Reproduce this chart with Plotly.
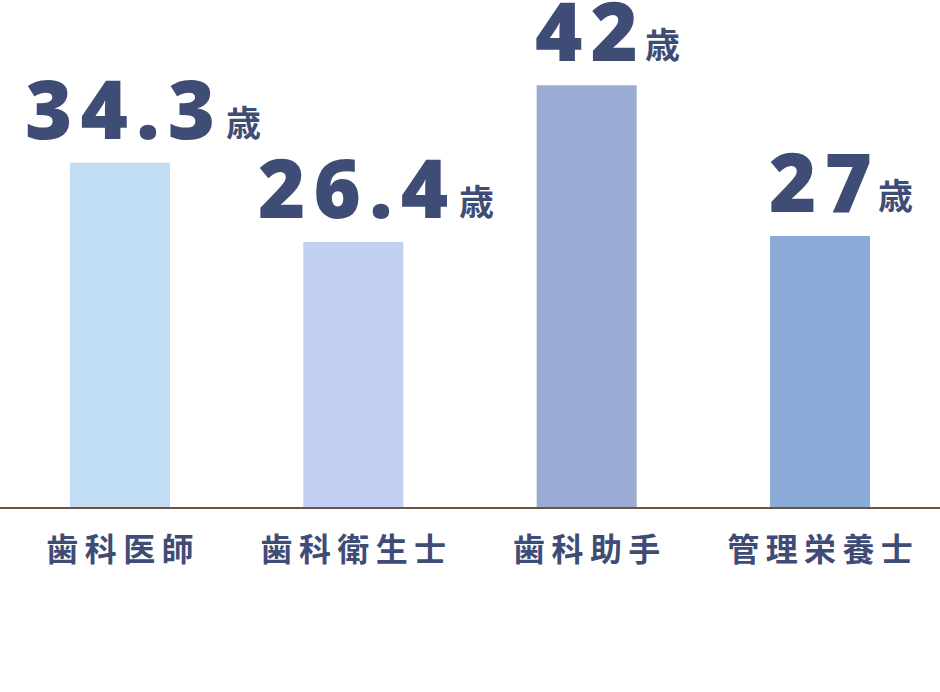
import plotly.graph_objects as go

categories = ["歯科医師", "歯科衛生士", "歯科助手", "管理栄養士"]
ages = [34.3, 26.4, 42, 27]
age_labels = ["34.3", "26.4", "42", "27"]
bar_colors = ["#c1ddf4", "#c0cff2", "#9aabd4", "#8aabd8"]

navy = "#3f4d76"
thin = "\u2009"
hair = "\u200a"


def spaced(s, sep):
    # fake letter spacing (plotly has no letter-spacing option)
    return sep.join(s)


fig = go.Figure()
fig.add_trace(go.Bar(
    x=list(range(len(categories))),
    y=ages,
    width=0.4286,
    marker=dict(color=bar_colors, line=dict(width=0)),
    hoverinfo="skip",
))

annotations = []
for i, (v, lab) in enumerate(zip(ages, age_labels)):
    # rough rendered width of the big number, used to park 歳 next to it
    n_dig = sum(c.isdigit() for c in lab)
    n_dot = lab.count(".")
    w = 56 * n_dig + 40 * n_dot
    annotations.append(dict(
        x=i, y=v, xref="x", yref="y",
        text=spaced(lab, hair), showarrow=False,
        xanchor="center", yanchor="bottom", yshift=-2,
        font=dict(family="Open Sans", size=81, color=navy, weight=800),
    ))
    annotations.append(dict(
        x=i, y=v, xref="x", yref="y",
        text="歳", showarrow=False,
        xanchor="left", yanchor="bottom", xshift=w / 2, yshift=15,
        font=dict(family="Noto Sans CJK JP", size=35, color=navy, weight=700),
    ))

fig.update_layout(
    width=940, height=692,
    margin=dict(l=0, r=0, t=0, b=185),
    paper_bgcolor="white",
    plot_bgcolor="white",
    showlegend=False,
    annotations=annotations,
    xaxis=dict(
        range=[-0.514, 3.514],
        tickmode="array",
        tickvals=list(range(len(categories))),
        ticktext=[spaced(c, thin) for c in categories],
        tickfont=dict(family="Noto Sans CJK JP", size=32, color=navy, weight=700),
        showline=True, linecolor="#6b5444", linewidth=2,
        showgrid=False, zeroline=False, ticks="",
        ticklabelstandoff=14,
        fixedrange=True,
    ),
    yaxis=dict(
        range=[0, 50.5],
        visible=False, showgrid=False, zeroline=False,
        fixedrange=True,
    ),
)

fig.write_html("out.html", config={"displayModeBar": False},
               post_script="document.body.style.margin='0';")
